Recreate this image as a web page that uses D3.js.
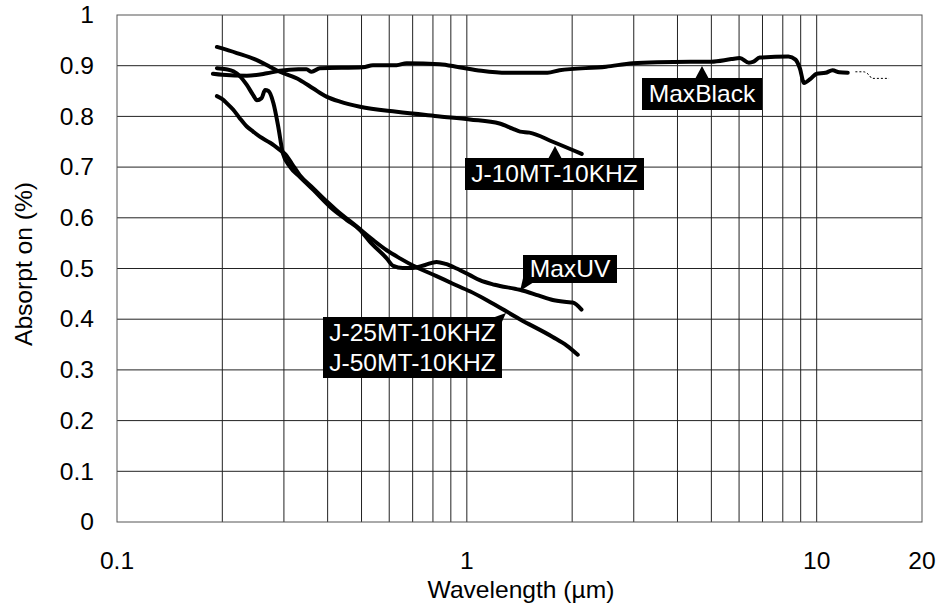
<!DOCTYPE html>
<html><head><meta charset="utf-8">
<script src="https://cdn.jsdelivr.net/npm/d3@7"></script>
<style>body{margin:0;background:#fff}svg{display:block}text{font-family:"Liberation Sans",Arial,sans-serif}</style>
</head><body><svg id="c" width="937" height="609"></svg>
<script>
const xTicks = [0.1, 1, 10, 20];
const xTickLabels = ["0.1", "1", "10", "20"];
const yTicks = [0,0.1,0.2,0.3,0.4,0.5,0.6,0.7,0.8,0.9,1];
const yTickLabels = ["0","0.1","0.2","0.3","0.4","0.5","0.6","0.7","0.8","0.9","1"];
const xGrid = [0.2,0.3,0.4,0.5,0.6,0.7,0.8,0.9,1,2,3,4,5,6,7,8,9,10];
const yGrid = [0.1,0.2,0.3,0.4,0.5,0.6,0.7,0.8,0.9];

const maxBlack = [[0.188,0.884],[0.2,0.882],[0.235,0.880],[0.268,0.885],[0.292,0.890],[0.33,0.893],[0.348,0.893],[0.36,0.888],[0.38,0.895],[0.505,0.897],[0.539,0.901],[0.63,0.901],[0.673,0.905],[0.837,0.903],[0.95,0.897],[1.1,0.89],[1.3,0.886],[1.7,0.886],[1.84,0.891],[2.5,0.898],[2.98,0.905],[3.5,0.907],[5,0.908],[5.7,0.913],[6.03,0.915],[6.4,0.906],[6.6,0.908],[6.87,0.916],[8.3,0.918],[8.7,0.912],[8.95,0.895],[9.2,0.866],[9.6,0.874],[10,0.884],[10.6,0.886],[11.1,0.891],[11.6,0.887],[12.27,0.886]];
const maxBlackTail = [[12.9,0.888],[13.6,0.888],[14.1,0.882],[14.4,0.875],[16.1,0.875]];
const j10 = [[0.193,0.937],[0.22,0.925],[0.251,0.911],[0.275,0.897],[0.292,0.888],[0.333,0.872],[0.364,0.855],[0.397,0.839],[0.434,0.829],[0.495,0.819],[0.63,0.809],[0.837,0.800],[1.02,0.794],[1.24,0.786],[1.35,0.776],[1.42,0.770],[1.51,0.768],[1.76,0.750],[2.13,0.726]];
const maxUV = [[0.193,0.895],[0.205,0.893],[0.215,0.889],[0.224,0.880],[0.235,0.862],[0.245,0.842],[0.251,0.832],[0.259,0.836],[0.265,0.852],[0.271,0.850],[0.28,0.826],[0.289,0.78],[0.298,0.727],[0.312,0.701],[0.333,0.681],[0.364,0.655],[0.406,0.622],[0.453,0.596],[0.495,0.576],[0.528,0.553],[0.59,0.52],[0.616,0.505],[0.656,0.501],[0.701,0.501],[0.76,0.507],[0.819,0.513],[0.87,0.509],[0.935,0.500],[1.02,0.487],[1.089,0.477],[1.2,0.468],[1.417,0.458],[1.6,0.447],[1.76,0.438],[1.927,0.434],[2.007,0.433],[2.127,0.419]];
const j25 = [[0.193,0.84],[0.2,0.834],[0.206,0.826],[0.215,0.813],[0.224,0.797],[0.235,0.78],[0.245,0.770],[0.256,0.760],[0.274,0.748],[0.292,0.734],[0.302,0.726],[0.316,0.707],[0.333,0.684],[0.364,0.658],[0.398,0.632],[0.424,0.615],[0.484,0.583],[0.54,0.556],[0.59,0.536],[0.644,0.520],[0.701,0.506],[0.819,0.485],[0.912,0.470],[1.02,0.455],[1.138,0.438],[1.417,0.400],[1.76,0.365],[1.93,0.348],[2.075,0.330]];

const series = [maxBlack, j10, maxUV, j25];

const svg = d3.select("#c");
const x = d3.scaleLog().domain([0.1,20]).range([117,922]);
const y = d3.scaleLinear().domain([0,1]).range([522,15]);
const FS = 23, SX = 1.07;

const g = svg.append("g");
g.selectAll("line.vg").data(xGrid).join("line")
  .attr("x1",d=>x(d)).attr("x2",d=>x(d)).attr("y1",y(0)).attr("y2",y(1))
  .attr("stroke","#222").attr("stroke-width",1);
g.selectAll("line.hg").data(yGrid).join("line")
  .attr("x1",x(0.1)).attr("x2",x(20)).attr("y1",d=>y(d)).attr("y2",d=>y(d))
  .attr("stroke","#222").attr("stroke-width",1);
g.append("rect").attr("x",x(0.1)).attr("y",y(1)).attr("width",x(20)-x(0.1)).attr("height",y(0)-y(1))
  .attr("fill","none").attr("stroke","#555").attr("stroke-width",1);

const line = d3.line().x(d=>x(d[0])).y(d=>y(d[1])).curve(d3.curveMonotoneX);
g.selectAll("path.s").data(series).join("path")
  .attr("d",line).attr("fill","none").attr("stroke","#000").attr("stroke-width",4)
  .attr("stroke-linejoin","round").attr("stroke-linecap","round");
g.append("path").attr("d",line(maxBlackTail)).attr("fill","none").attr("stroke","#000")
  .attr("stroke-width",1).attr("stroke-dasharray","2,2");

function txt(px,py,s,anchor,fill,rot){
  return svg.append("text")
    .attr("transform",`translate(${px},${py})`+(rot?` rotate(${rot})`:"")+` scale(${SX},1)`)
    .attr("dy","0.36em").attr("text-anchor",anchor).attr("font-size",FS).attr("fill",fill||"#000").text(s);
}
yTicks.forEach((d,i)=>txt(94,y(d),yTickLabels[i],"end"));
xTicks.forEach((d,i)=>txt(x(d),561,xTickLabels[i],"middle"));
txt(521,590,"Wavelength (µm)","middle");
txt(24,264,"Absorpt on (%)","middle",null,-90);

// callouts
function box(x0,y0,w,h,lines){
  svg.append("rect").attr("x",x0).attr("y",y0).attr("width",w).attr("height",h).attr("fill","#000");
  const lh = h/lines.length;
  lines.forEach((t,i)=>txt(x0+w/2,y0+lh*(i+0.5),t,"middle","#fff"));
}
function tri(pts){svg.append("polygon").attr("points",pts.map(p=>p.join(",")).join(" ")).attr("fill","#000");}
box(642,78,120,32,["MaxBlack"]);
tri([[702,66],[695,79],[709,79]]);
box(465,158,179,32,["J-10MT-10KHZ"]);
tri([[555,146],[548,159],[562,159]]);
box(523,255,94,28,["MaxUV"]);
tri([[524,274],[534,282],[520,291]]);
box(323,317,179,61,["J-25MT-10KHZ","J-50MT-10KHZ"]);
tri([[492,318],[501,324],[506,313]]);
</script></body></html>
